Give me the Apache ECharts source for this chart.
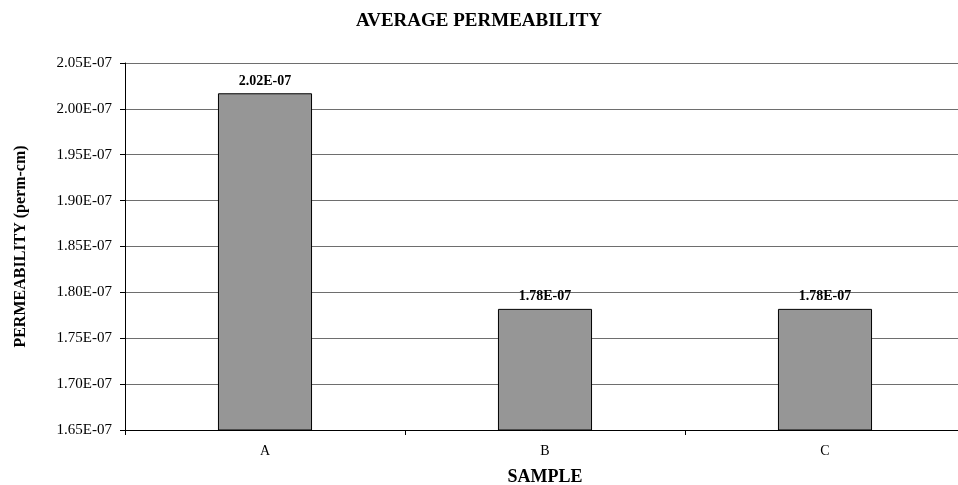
<!DOCTYPE html>
<html>
<head>
<meta charset="utf-8">
<script src="https://cdn.jsdelivr.net/npm/echarts@6/dist/echarts.min.js"></script>
<style>
  html, body { margin: 0; padding: 0; background: #fff; }
  #chart { width: 958px; height: 485px; }
</style>
</head>
<body>
<div id="chart"></div>
<script>
// Sample names and average permeability per sample (perm-cm)
const samples = ['A', 'B', 'C'];
const permeability = [2.017e-7, 1.782e-7, 1.782e-7];
const yMin = 1.65e-7;
const yMax = 2.05e-7;
const yStep = 0.05e-7;

// Format numbers like 2.05E-07 (two-digit exponent)
function sci(v) {
  const s = Number(v).toExponential(2).toUpperCase();
  const m = s.match(/^(-?[\d.]+)E([+-])(\d+)$/);
  if (!m) return s;
  const exp = m[3].length < 2 ? '0' + m[3] : m[3];
  return m[1] + 'E' + m[2] + exp;
}

const serif = '"Liberation Serif", "Times New Roman", serif';
const chart = echarts.init(document.getElementById('chart'));
chart.setOption({
  animation: false,
  backgroundColor: '#ffffff',
  title: {
    text: 'AVERAGE PERMEABILITY',
    left: 'center',
    top: 7,
    textStyle: { fontFamily: serif, fontWeight: 'bold', fontSize: 19, color: '#000' }
  },
  // plot area runs a little past the right edge of the canvas
  grid: { left: 125, top: 63, width: 840, height: 367, containLabel: false, outerBoundsMode: 'none' },
  xAxis: {
    type: 'category',
    data: samples,
    name: 'SAMPLE',
    nameLocation: 'middle',
    nameGap: 38,
    nameTextStyle: { fontFamily: serif, fontWeight: 'bold', fontSize: 18, color: '#000' },
    axisLine: { lineStyle: { color: '#000', width: 1 } },
    axisTick: { show: true, length: 5, lineStyle: { color: '#000' } },
    axisLabel: { fontFamily: serif, fontSize: 14, color: '#000', margin: 14 }
  },
  yAxis: {
    type: 'value',
    min: yMin,
    max: yMax,
    interval: yStep,
    name: 'PERMEABILITY (perm-cm)',
    nameLocation: 'middle',
    nameGap: 96,
    nameTextStyle: { fontFamily: serif, fontWeight: 'bold', fontSize: 16, color: '#000' },
    axisLine: { show: true, lineStyle: { color: '#000', width: 1 } },
    axisTick: { show: true, length: 5, lineStyle: { color: '#000' } },
    axisLabel: { fontFamily: serif, fontSize: 15, color: '#000', margin: 13, formatter: sci },
    splitLine: { show: true, lineStyle: { color: '#6e6e6e', width: 1 } }
  },
  series: [{
    type: 'bar',
    data: permeability,
    barWidth: '33.6%',
    itemStyle: { color: '#969696', borderColor: '#000', borderWidth: 1 },
    label: {
      show: true,
      position: 'top',
      distance: 5,
      fontFamily: serif,
      fontWeight: 'bold',
      fontSize: 14,
      color: '#000',
      formatter: p => sci(p.value)
    }
  }]
});
</script>
</body>
</html>
